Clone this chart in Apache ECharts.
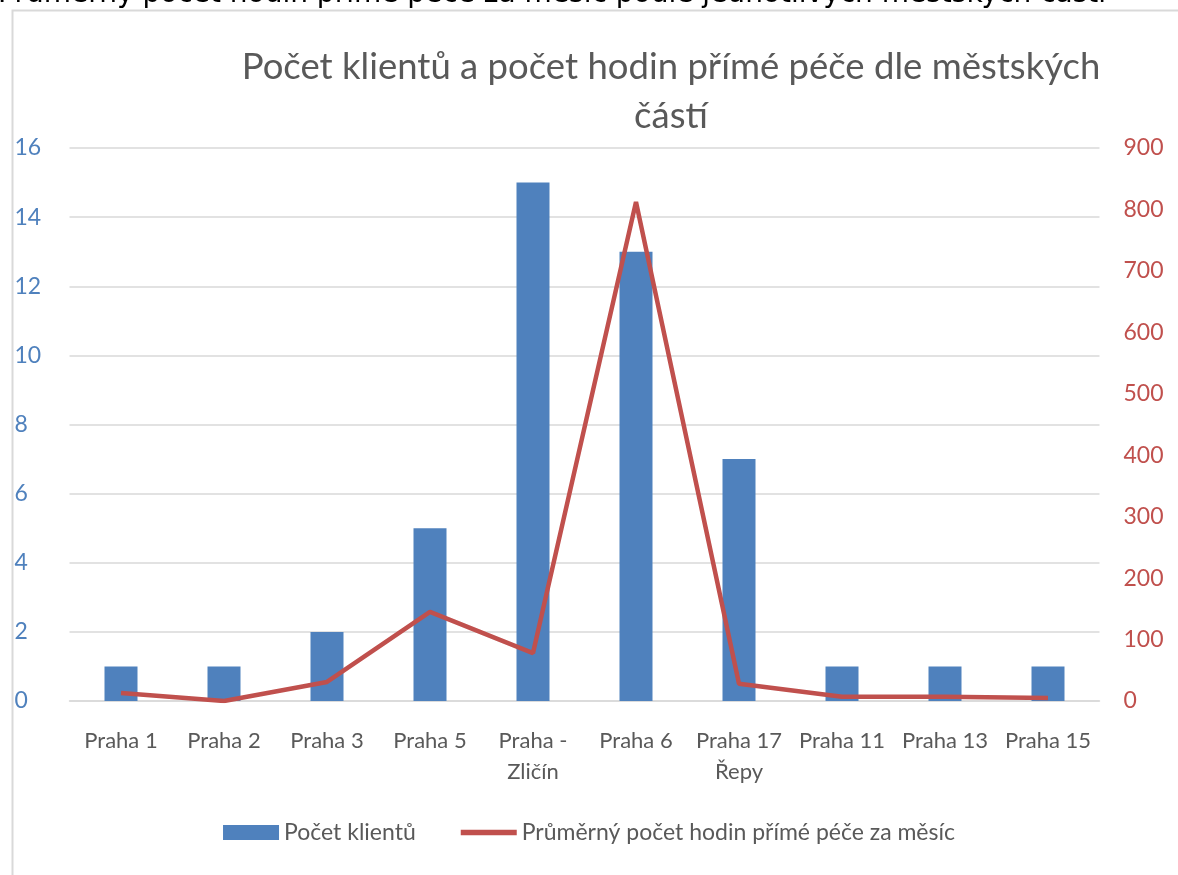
<!DOCTYPE html>
<html><head><meta charset="utf-8">
<script src="https://cdn.jsdelivr.net/npm/echarts@6/dist/echarts.min.js"></script>
<style>html,body{margin:0;padding:0;background:#fff}#c{width:1178px;height:875px}</style>
</head><body><div id="c"></div>
<script>
const categories = ['Praha 1','Praha 2','Praha 3','Praha 5','Praha -\nZličín','Praha 6','Praha 17\nŘepy','Praha 11','Praha 13','Praha 15'];
const clients = [1,1,2,5,15,13,7,1,1,1];
const hours = [13,0,31,145,78,812,28,7,7,5];
const leftTicks = {min:0,max:16,interval:2};
const rightTicks = {min:0,max:900,interval:100};
const titleText = 'Počet klientů a počet hodin přímé péče dle městských\nčástí';
const topText = 'Průměrný počet hodin přímé péče za měsíc podle jednotlivých městských částí';

const FONT = 'Lato, "Liberation Sans", sans-serif';
const chart = echarts.init(document.getElementById('c'));
chart.setOption({
  animation:false,
  backgroundColor:'#fff',
  graphic:[
    {type:'rect',shape:{x:12.5,y:10.5,width:1200,height:900},style:{fill:'none',stroke:'#d9d9d9',lineWidth:2},z:-1},
    {type:'text',left:-2,top:-19,style:{text:topText,font:'28px "DejaVu Sans", sans-serif',fill:'#000'}}
  ],
  title:{
    text:titleText,
    left:666, top:38, textAlign:'center',
    textStyle:{fontFamily:FONT,fontSize:36.5,fontWeight:'normal',color:'#595959',lineHeight:49,align:'center'}
  },
  legend:{
    bottom:26,left:'center',itemGap:45,itemWidth:56,itemHeight:15,
    textStyle:{fontFamily:FONT,fontSize:23,color:'#595959'},
    data:[{name:'Počet klientů',icon:'rect'},{name:'Průměrný počet hodin přímé péče za měsíc',icon:'path://M0,0 L10,0 L10,1 L0,1 Z'}]
  },
  grid:{left:69.5,right:78.5,top:148,bottom:174,containLabel:false},
  xAxis:{
    type:'category',data:categories,
    axisLine:{lineStyle:{color:'#d9d9d9',width:1.5}},axisTick:{show:false},
    axisLabel:{fontFamily:FONT,fontSize:22,color:'#595959',margin:24,lineHeight:31,interval:0}
  },
  yAxis:[
    {type:'value',min:leftTicks.min,max:leftTicks.max,interval:leftTicks.interval,
     axisLine:{show:false},axisTick:{show:false},
     splitLine:{lineStyle:{color:'#d9d9d9',width:1.5}},
     axisLabel:{fontFamily:FONT,fontSize:23,color:'#4f81bd',align:'left',margin:55}},
    {type:'value',min:rightTicks.min,max:rightTicks.max,interval:rightTicks.interval,position:'right',
     axisLine:{show:false},axisTick:{show:false},splitLine:{show:false},
     axisLabel:{fontFamily:FONT,fontSize:23,color:'#c0504d',margin:24}}
  ],
  series:[
    {name:'Počet klientů',type:'bar',data:clients,barWidth:33,itemStyle:{color:'#4f81bd'},yAxisIndex:0},
    {name:'Průměrný počet hodin přímé péče za měsíc',type:'line',data:hours,yAxisIndex:1,
     symbol:'none',lineStyle:{color:'#c0504d',width:4.5},itemStyle:{color:'#c0504d'}}
  ]
});
</script></body></html>
